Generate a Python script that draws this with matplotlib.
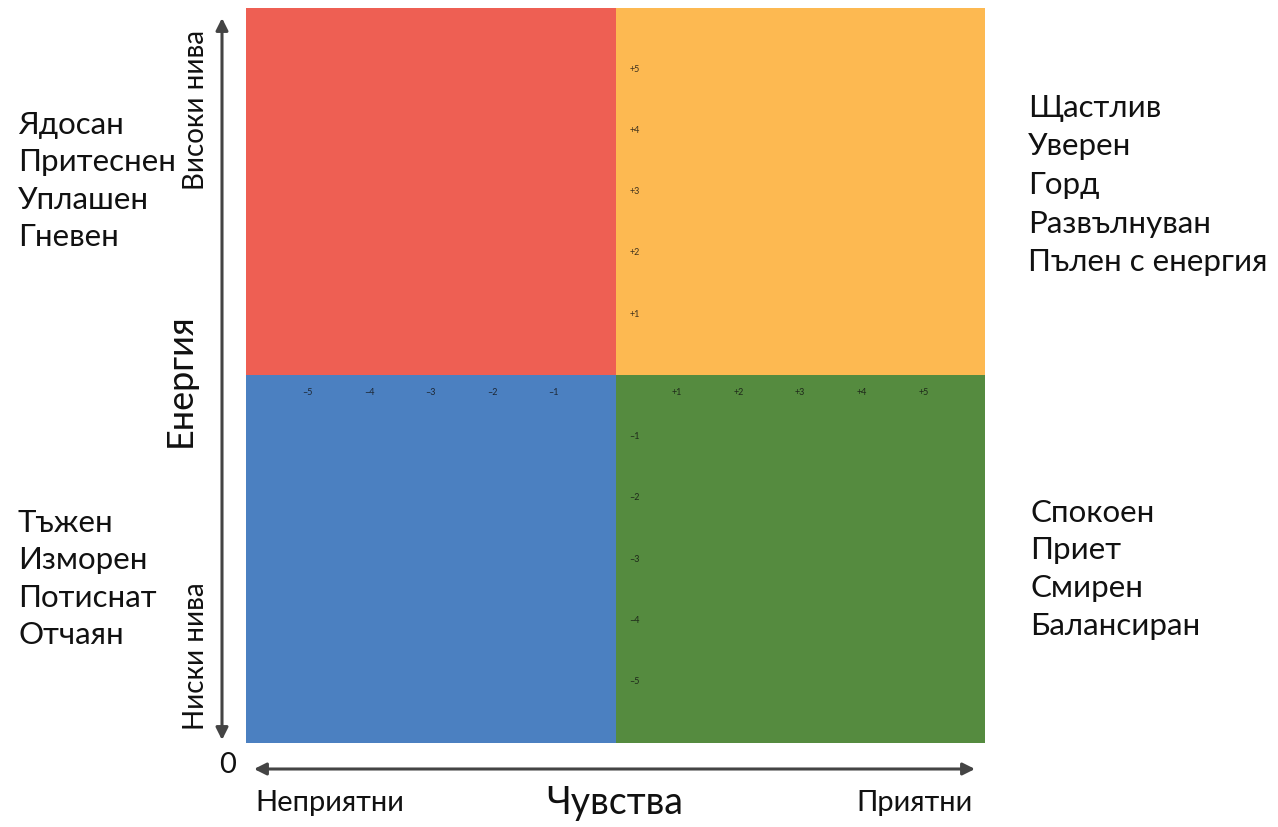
import matplotlib.pyplot as plt
from matplotlib.patches import Rectangle

# quadrants: (x0, y0, width, height) in energy/feeling units
quad_x = [-6, 0, -6, 0]
quad_y = [0, 0, -6, -6]
quad_colors = ['#ee5f53', '#fdb951', '#4b80c1', '#558b3f']

x_ticks = [-5, -4, -3, -2, -1, 1, 2, 3, 4, 5]
y_ticks = [5, 4, 3, 2, 1, -1, -2, -3, -4, -5]

top_left = ['Ядосан', 'Притеснен', 'Уплашен', 'Гневен']
top_right = ['Щастлив', 'Уверен', 'Горд', 'Развълнуван', 'Пълен с енергия']
bottom_left = ['Тъжен', 'Изморен', 'Потиснат', 'Отчаян']
bottom_right = ['Спокоен', 'Приет', 'Смирен', 'Балансиран']

plt.rcParams['font.family'] = ['Lato', 'DejaVu Sans']

fig = plt.figure(figsize=(12.78, 8.27), dpi=100)

# background axes in pixel coordinates for arrows and labels
bg = fig.add_axes([0, 0, 1, 1])
bg.set_xlim(0, 1278)
bg.set_ylim(827, 0)
bg.axis('off')

ax = fig.add_axes([246 / 1278, (827 - 743) / 827, 739 / 1278, 735 / 827])
for x0, y0, c in zip(quad_x, quad_y, quad_colors):
    ax.add_patch(Rectangle((x0, y0), 6, 6, color=c, lw=0))
ax.set_xlim(-6, 6)
ax.set_ylim(-6, 6)
ax.axis('off')

for t in x_ticks:
    ax.text(t, -0.28, f'{t:+d}'.replace('-', '\u2013'), ha='center', va='center',
            fontsize=6.5, color='#111111', alpha=0.8)
for t in y_ticks:
    ax.text(0.31, t, f'{t:+d}'.replace('-', '\u2013'), ha='center', va='center',
            fontsize=6.5, color='#111111', alpha=0.8)

# arrows
arrow = dict(arrowstyle='<|-|>', color='#444444', lw=2.2, mutation_scale=18,
             shrinkA=0, shrinkB=0)
bg.annotate('', xy=(222, 18), xytext=(222, 740), arrowprops=arrow)
bg.annotate('', xy=(975, 769), xytext=(254, 769), arrowprops=arrow)

bg.text(228, 765, '0', ha='center', va='center', fontsize=21, color='#111111')

# rotated axis labels
bg.text(196, 110, 'Високи нива', rotation=90, ha='center', va='center', fontsize=20, color='#111111')
bg.text(180, 380, 'Енергия', rotation=90, ha='center', va='center', fontsize=26, color='#111111')
bg.text(196, 656, 'Ниски нива', rotation=90, ha='center', va='center', fontsize=20, color='#111111')

bg.text(255, 803, 'Неприятни', ha='left', va='center', fontsize=21, color='#111111')
bg.text(615, 803, 'Чувства', ha='center', va='center', fontsize=27, color='#111111')
bg.text(973, 803, 'Приятни', ha='right', va='center', fontsize=21, color='#111111')

def word_list(words, x, y0, step):
    for i, w in enumerate(words):
        bg.text(x, y0 + i * step, w, ha='left', va='center', fontsize=22.5, color='#111111')

word_list(top_left, 18, 125, 37.5)
word_list(top_right, 1028, 108, 38.5)
word_list(bottom_left, 18, 523, 37.5)
word_list(bottom_right, 1030, 513, 37.5)

fig.savefig('out.png', dpi=100)
